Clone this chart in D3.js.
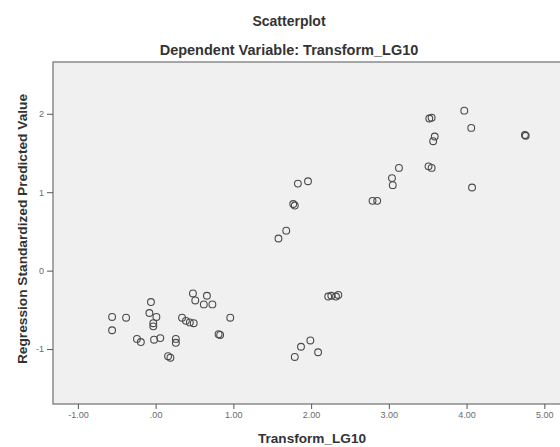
<!DOCTYPE html>
<html>
<head>
<meta charset="utf-8">
<script src="https://cdn.jsdelivr.net/npm/d3@7"></script>
<style>
  body { margin: 0; background: #fff; }
  text { font-family: "Liberation Sans", Arial, sans-serif; }
</style>
</head>
<body>
<div id="chart"></div>
<script>
// values
var xValues = [-0.56, -0.38, -0.56, -0.24, -0.19, -0.06, -0.08, 0.01, -0.03, -0.03,
               -0.02, 0.06, 0.16, 0.19, 0.26, 0.26, 0.34, 0.39, 0.44, 0.49,
               0.48, 0.51, 0.66, 0.62, 0.73, 0.81, 0.83, 0.96,
               1.58, 1.68, 1.77, 1.79, 1.83, 1.96, 2.22, 2.26, 2.35, 2.32,
               1.99, 1.87, 2.09, 1.79, 2.79, 2.85,
               3.04, 3.05, 3.13, 3.51, 3.55, 3.52, 3.55, 3.59, 3.57,
               3.97, 4.06, 4.07, 4.76, 4.75];
var yValues = [-0.59, -0.60, -0.76, -0.87, -0.91, -0.40, -0.54, -0.59, -0.67, -0.71,
               -0.88, -0.86, -1.09, -1.11, -0.87, -0.92, -0.60, -0.64, -0.66, -0.67,
               -0.29, -0.38, -0.32, -0.43, -0.43, -0.81, -0.82, -0.60,
               0.41, 0.51, 0.85, 0.83, 1.11, 1.14, -0.33, -0.32, -0.31, -0.33,
               -0.89, -0.97, -1.04, -1.10, 0.89, 0.89,
               1.18, 1.09, 1.31, 1.33, 1.31, 1.94, 1.95, 1.71, 1.65,
               2.04, 1.82, 1.06, 1.72, 1.73];
var xTicks = [-1, 0, 1, 2, 3, 4, 5];
var xTickLabels = ["-1.00", ".00", "1.00", "2.00", "3.00", "4.00", "5.00"];
var yTicks = [-1, 0, 1, 2];
var yTickLabels = ["-1", "0", "1", "2"];

var data = xValues.map(function(d, i) { return {x: d, y: yValues[i]}; });

// set the dimensions and margins of the graph
// (the frame runs just past the right edge, as in the reference)
var margin = {top: 62, right: -3, bottom: 43, left: 53},
    width = 560 - margin.left - margin.right,
    height = 447 - margin.top - margin.bottom;

var svgRoot = d3.select("#chart")
  .append("svg")
    .attr("width", 560)
    .attr("height", 447);

var svg = svgRoot.append("g")
    .attr("transform", `translate(${margin.left},${margin.top})`);

const x = d3.scaleLinear()
  .domain([-1.32, 5.24])
  .range([0, width]);

const y = d3.scaleLinear()
  .domain([-1.70, 2.66])
  .range([height, 0]);

// plot background and frame
svg.append("rect")
  .attr("width", width)
  .attr("height", height)
  .attr("fill", "#f0f0f0")
  .attr("stroke", "#7a7a7a")
  .attr("stroke-width", 1.3);

// X axis
var xAxis = svg.append("g")
  .attr("transform", `translate(0, ${height})`)
  .call(d3.axisBottom(x).tickValues(xTicks).tickSize(5).tickPadding(3)
    .tickFormat(function(d, i) { return xTickLabels[i]; }));
xAxis.select(".domain").remove();
xAxis.selectAll("line").attr("stroke", "#555");
xAxis.selectAll("text")
  .style("font-size", "9px")
  .attr("fill", "#6a6a6a");

// Y axis
var yAxis = svg.append("g")
  .call(d3.axisLeft(y).tickValues(yTicks).tickSize(6).tickPadding(3)
    .tickFormat(function(d, i) { return yTickLabels[i]; }));
yAxis.select(".domain").remove();
yAxis.selectAll("line").attr("stroke", "#555");
yAxis.selectAll("text")
  .style("font-size", "9px")
  .attr("fill", "#6a6a6a");

// points
svg.selectAll("circle")
  .data(data)
  .join("circle")
    .attr("cx", d => x(d.x))
    .attr("cy", d => y(d.y))
    .attr("r", 3.4)
    .attr("fill", "none")
    .attr("stroke", "#4a4a4a")
    .attr("stroke-width", 1.1);

// titles
svgRoot.append("text")
  .attr("x", 289)
  .attr("y", 26)
  .attr("text-anchor", "middle")
  .style("font-size", "14px")
  .style("font-weight", "bold")
  .attr("fill", "#333")
  .text("Scatterplot");

svgRoot.append("text")
  .attr("x", 289)
  .attr("y", 55)
  .attr("text-anchor", "middle")
  .style("font-size", "14.5px")
  .style("font-weight", "bold")
  .attr("fill", "#333")
  .text("Dependent Variable: Transform_LG10");

svgRoot.append("text")
  .attr("x", 312)
  .attr("y", 443)
  .attr("text-anchor", "middle")
  .style("font-size", "13.6px")
  .style("font-weight", "bold")
  .attr("fill", "#333")
  .text("Transform_LG10");

svgRoot.append("text")
  .attr("transform", "translate(26.5, 229) rotate(-90)")
  .attr("text-anchor", "middle")
  .style("font-size", "13.7px")
  .style("font-weight", "bold")
  .attr("fill", "#333")
  .text("Regression Standardized Predicted Value");
</script>
</body>
</html>
